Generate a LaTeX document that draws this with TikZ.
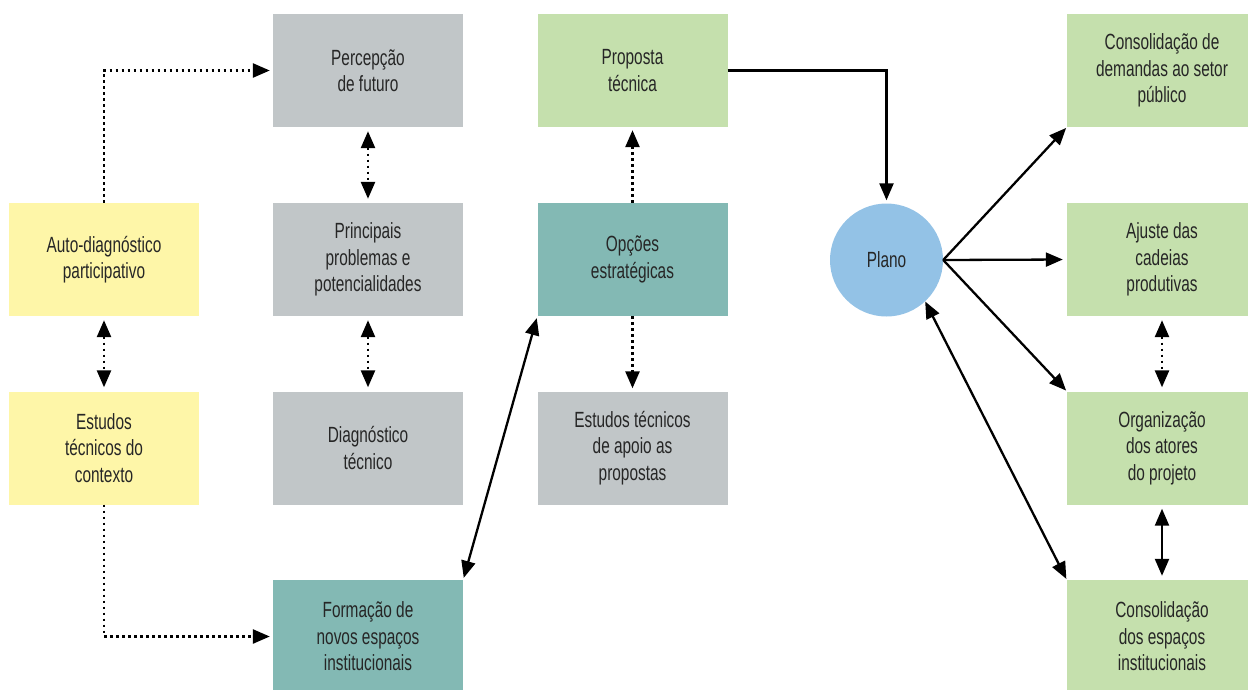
\documentclass[tikz,border=0pt]{standalone}
\usepackage{fontspec}
\setmainfont{Liberation Sans}[FakeStretch=0.70]
\usetikzlibrary{arrows.meta}

\definecolor{txt}{HTML}{262626}
\definecolor{cyellow}{HTML}{FEF6A8}
\definecolor{cgray}{HTML}{C1C6C8}
\definecolor{cgreen}{HTML}{C5E0AD}
\definecolor{cteal}{HTML}{83B9B4}
\definecolor{cblue}{HTML}{93C2E6}

\tikzset{
  box/.style={rectangle, minimum width=190pt, minimum height=113pt, inner sep=0pt,
    align=center, text=txt, font=\fontsize{22}{26.5}\selectfont},
  ybox/.style={box, fill=cyellow},
  gbox/.style={box, fill=cgray},
  lbox/.style={box, fill=cgreen},
  tbox/.style={box, fill=cteal},
  tipa/.tip={Triangle[length=17pt,width=14pt]},
  solidline/.style={draw=black, line width=2.3pt},
  dotline/.style={draw=black, line width=2.6pt, dash pattern=on 2.6pt off 3.4pt},
}

\begin{document}
\begin{tikzpicture}[x=1pt,y=-1pt]
  \useasboundingbox (0,0) rectangle (1248,689);
  \clip (0,0) rectangle (1248,689);

  % left column: participatory inputs
  \node[ybox] (ad) at (104,259.5) {Auto-diagnóstico\\participativo};
  \node[ybox] (et) at (104,448) {Estudos\\técnicos do\\contexto};

  % second column: diagnosis
  \node[gbox] (pf) at (368,70.5) {Percepção\\de futuro};
  \node[gbox] (pp) at (368,259.5) {Principais\\problemas e\\potencialidades};
  \node[gbox] (dt) at (368,448) {Diagnóstico\\técnico};
  \node[tbox] (fn) at (368,636.5) {Formação de\\novos espaços\\institucionais};

  % third column: proposals
  \node[lbox] (pt) at (632.5,70.5) {Proposta\\técnica};
  \node[tbox] (oe) at (632.5,259.5) {Opções\\estratégicas};
  \node[gbox] (ea) at (632.5,448) {Estudos técnicos\\de apoio as\\propostas};

  % plan
  \node[circle, fill=cblue, minimum size=113pt, inner sep=0pt, text=txt,
        font=\fontsize{22}{26.5}\selectfont] (pl) at (886.5,260) {Plano};

  % right column: outcomes
  \node[lbox] (cd) at (1162,70.5) {Consolidação de\\demandas ao setor\\público};
  \node[lbox] (ac) at (1162,259.5) {Ajuste das\\cadeias\\produtivas};
  \node[lbox] (oa) at (1162,448) {Organização\\dos atores\\do projeto};
  \node[lbox] (ce) at (1162,636.5) {Consolidação\\dos espaços\\institucionais};

  % dotted links
  \draw[dotline, -tipa, shorten >=3pt] (ad.north) |- (pf.west);
  \draw[dotline, -tipa, shorten >=3pt] (et.south) |- (fn.west);
  \draw[dotline, tipa-tipa, shorten <=4pt, shorten >=4pt] (pf.south) -- (pp.north);
  \draw[dotline, tipa-tipa, shorten <=4pt, shorten >=4pt] (pp.south) -- (dt.north);
  \draw[dotline, tipa-tipa, shorten <=4pt, shorten >=4pt] (ad.south) -- (et.north);
  \draw[dotline, -tipa, shorten >=3pt] (oe.north) -- (pt.south);
  \draw[dotline, -tipa, shorten >=3pt] (oe.south) -- (ea.north);
  \draw[dotline, tipa-tipa, shorten <=4pt, shorten >=4pt] (ac.south) -- (oa.north);

  % solid links
  \draw[solidline, tipa-tipa, shorten <=2pt, shorten >=2pt] (fn.north east) -- (oe.south west);
  \draw[solidline, -tipa, shorten >=3pt] (pt.east) -| (pl.north);
  \draw[solidline, -tipa, shorten >=1pt] (pl.east) -- (cd.south west);
  \draw[solidline, -tipa, shorten >=4pt] (pl.east) -- (ac.west);
  \draw[solidline, -tipa, shorten >=1pt] (pl.east) -- (oa.north west);
  \draw[solidline, tipa-tipa, shorten >=1pt] (pl.-47) -- (ce.north west);
  \draw[solidline, tipa-tipa, shorten <=4pt, shorten >=4pt] (oa.south) -- (ce.north);
\end{tikzpicture}
\end{document}
